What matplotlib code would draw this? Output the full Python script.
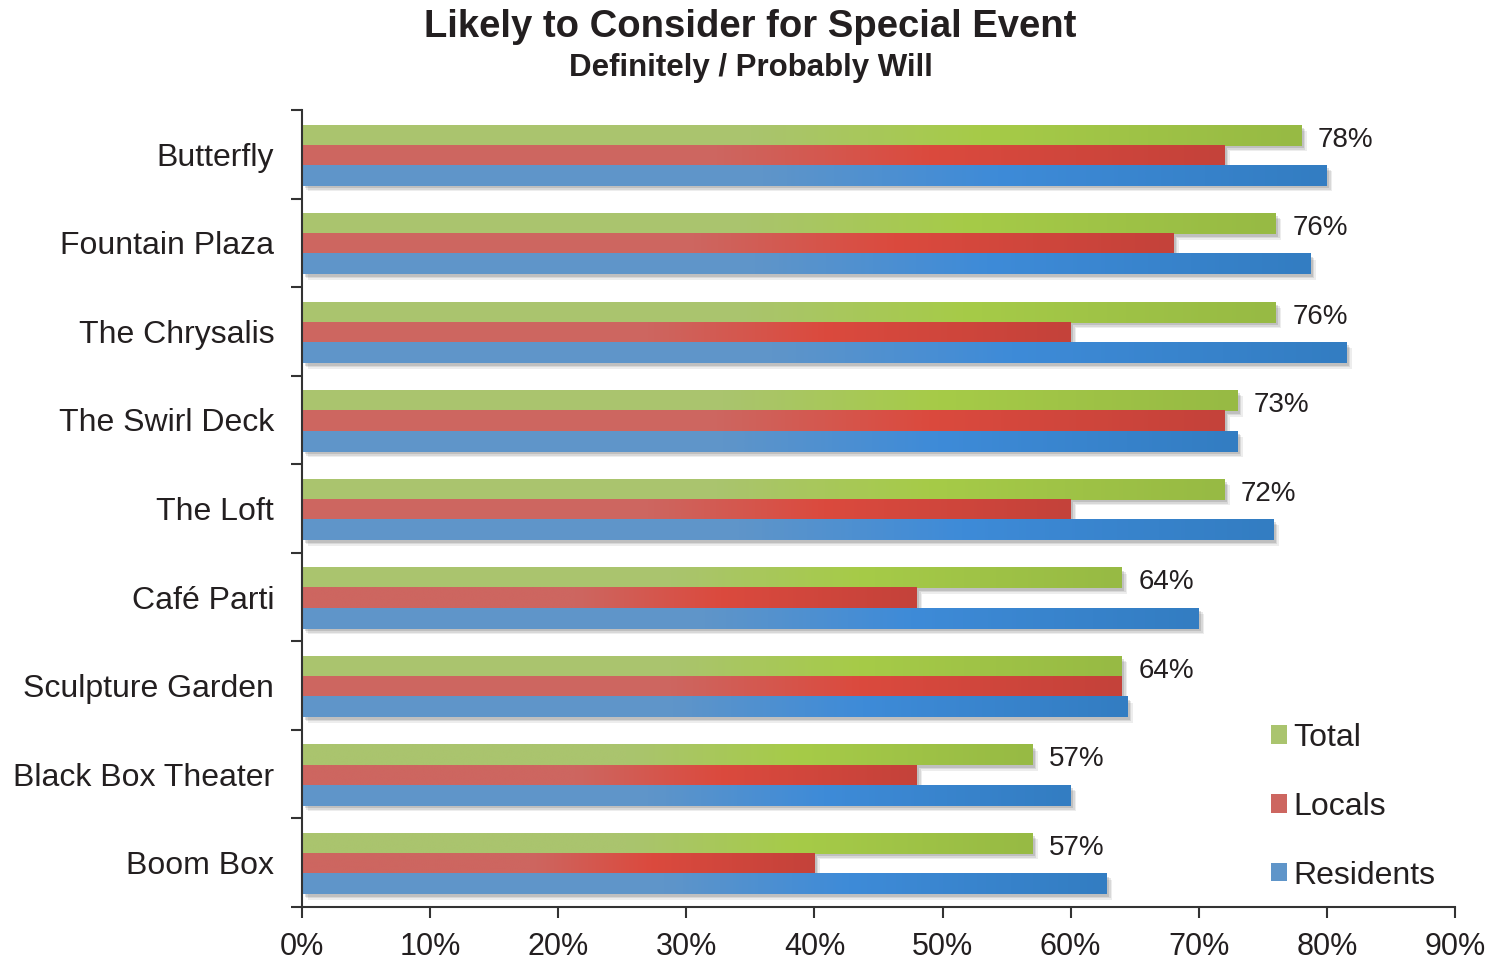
import numpy as np
import matplotlib
matplotlib.use("Agg")
import matplotlib.pyplot as plt
from matplotlib.colors import LinearSegmentedColormap
from matplotlib.patches import Rectangle
import matplotlib.transforms as mtransforms

plt.rcParams['font.family'] = ['Liberation Sans', 'DejaVu Sans']

categories = ["Butterfly", "Fountain Plaza", "The Chrysalis", "The Swirl Deck", "The Loft",
              "Café Parti", "Sculpture Garden", "Black Box Theater", "Boom Box"]
total = [78, 76, 76, 73, 72, 64, 64, 57, 57]
locals_ = [72, 68, 60, 72, 60, 48, 64, 48, 40]
residents = [80, 78.7, 81.5, 73, 75.8, 70, 64.4, 60, 62.8]
total_labels = ["78%", "76%", "76%", "73%", "72%", "64%", "64%", "57%", "57%"]
series_names = ["Total", "Locals", "Residents"]
xticks = [0, 10, 20, 30, 40, 50, 60, 70, 80, 90]

TXT = '#231F20'
grads = {
    "Total": ["#AAC46E", "#AAC46E", "#A6CB48", "#97BA44"],
    "Locals": ["#CD6660", "#CD6660", "#DB4A3E", "#C4423A"],
    "Residents": ["#5F95C9", "#5F95C9", "#3E8BD8", "#337DC2"],
}
stops = [0.0, 0.45, 0.68, 1.0]

fig = plt.figure(figsize=(14.95, 9.63), dpi=100)
ax = fig.add_axes([302/1495, 1-907/963, (1455-302)/1495, (907-110)/963])

n = len(categories)
ypos = np.arange(n)
h = 0.228
shift = 0.015
offsets = [-h + shift, shift, h + shift]
data = [total, locals_, residents]

grad_arr = np.linspace(0, 1, 256).reshape(1, -1)
for si, name in enumerate(series_names):
    cmap = LinearSegmentedColormap.from_list(name, list(zip(stops, grads[name])))
    vals = data[si]
    for i in range(n):
        yc = ypos[i] + offsets[si]
        y0 = yc - h/2
        v = vals[i]
        for k, a in enumerate([0.10, 0.13, 0.18]):
            off = 5.5 - k * 1.5
            tr = mtransforms.offset_copy(ax.transData, fig=fig, x=off, y=-off, units='dots')
            ax.add_patch(Rectangle((0, y0), v, h, transform=tr, facecolor='#505050',
                                   edgecolor='none', alpha=a, zorder=1))
    for i in range(n):
        yc = ypos[i] + offsets[si]
        y0, y1 = yc - h/2, yc + h/2
        v = vals[i]
        ax.imshow(grad_arr, cmap=cmap, aspect='auto', extent=(0, v, y1, y0),
                  zorder=2 + si * 0.01, interpolation='bicubic')

for i in range(n):
    ax.annotate(total_labels[i], xy=(total[i], ypos[i] + offsets[0]), xytext=(12, -3),
                textcoords='offset points', va='center', ha='left', fontsize=20, color=TXT)

ax.set_xlim(0, 90)
ax.set_ylim(n - 0.5, -0.5)
ax.set_xticks(xticks)
ax.set_xticklabels([f"{t}%" for t in xticks], fontsize=22, color=TXT)
ax.set_yticks(ypos)
ax.set_yticklabels(categories, fontsize=23, color=TXT)
lab_off = mtransforms.ScaledTranslation(0, -2/100, fig.dpi_scale_trans)
for lbl in ax.get_yticklabels():
    lbl.set_transform(lbl.get_transform() + lab_off)
ax.set_yticks(np.arange(-0.5, n, 1.0), minor=True)
ax.tick_params(axis='y', which='major', length=0, pad=20)
ax.tick_params(axis='y', which='minor', length=8, width=1.5, color='#333333', direction='out')
ax.tick_params(axis='x', which='major', length=8, width=1.5, color='#333333', direction='out', pad=10)
for s in ['top', 'right']:
    ax.spines[s].set_visible(False)
for s in ['left', 'bottom']:
    ax.spines[s].set_linewidth(1.5)
    ax.spines[s].set_color('#333333')
ax.set_facecolor('none')

handles = [Rectangle((0, 0), 1, 1, facecolor=grads[nm][1], edgecolor='none') for nm in series_names]
leg = ax.legend(handles, series_names, loc='upper left',
                bbox_to_anchor=((1258-302)/(1455-302), (907-710)/(907-110)),
                frameon=False, fontsize=23, handlelength=0.5, handleheight=0.5, handletextpad=0.2,
                labelspacing=1.22, borderaxespad=0)
for t in leg.get_texts():
    t.set_color(TXT)

fig.text(0.502, 1-27/963, "Likely to Consider for Special Event", ha='center', va='center',
         fontsize=27.5, fontweight='bold', color=TXT)
fig.text(0.502, 1-68/963, "Definitely / Probably Will", ha='center', va='center',
         fontsize=22.5, fontweight='bold', color=TXT)

fig.savefig("out.png", dpi=100, facecolor='white')
